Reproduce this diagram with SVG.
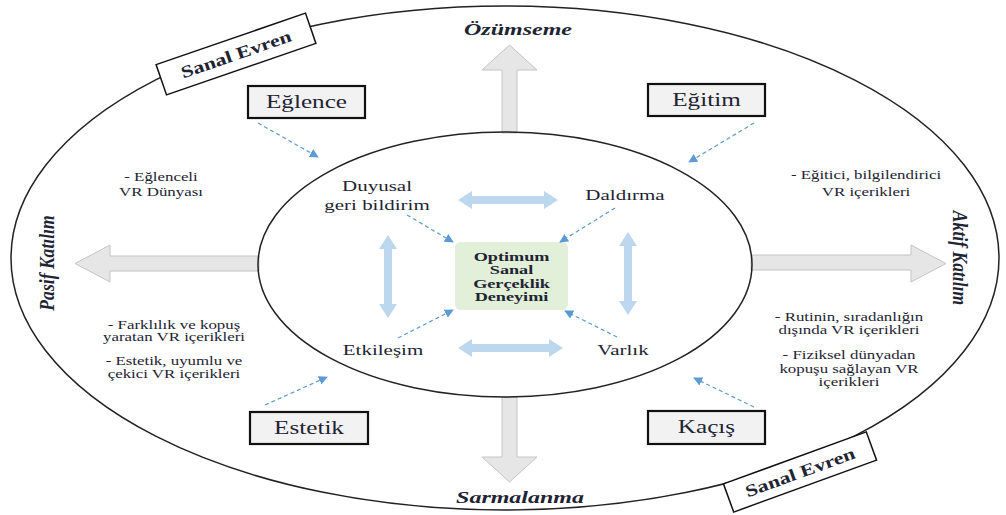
<svg xmlns="http://www.w3.org/2000/svg" width="1006" height="515" viewBox="0 0 1006 515" font-family="Liberation Serif, Times New Roman, serif">
<style>
text{fill:#1e2433;text-anchor:middle}
.axis{font-weight:bold;font-style:italic;font-size:16px}
.cat{font-size:18px}
.inner{font-size:15px}
.note{font-size:12.5px}
.ctr{font-size:13px;font-weight:bold}
.big{fill:#e6e6e6;stroke:#c4c4c4;stroke-width:1}
.dbl{fill:#bdd7ee}
.dash{stroke:#5b9bd5;stroke-width:1.2;stroke-dasharray:4 3;fill:none;marker-end:url(#ah)}
.catbox{fill:#f2f2f2;stroke:#111;stroke-width:2.2}
.evren{fill:#fff;stroke:#111;stroke-width:1.5}
</style>
<defs>
<marker id="ah" viewBox="0 0 10 10" refX="9" refY="5" markerWidth="9" markerHeight="9" markerUnits="userSpaceOnUse" orient="auto">
<path d="M0,0 L10,5 L0,10 z" fill="#5b9bd5"/>
</marker>
</defs>
<rect width="1006" height="515" fill="#fff"/>
<ellipse cx="505" cy="258" rx="494" ry="252" fill="none" stroke="#222" stroke-width="1.5"/>
<g id="big-arrows">
<polygon class="big" points="502,133 502,70 482,70 509.5,45 537,70 517,70 517,133"/>
<polygon class="big" points="502,397 502,457 482,457 509.5,482 537,457 517,457 517,397"/>
<polygon class="big" points="259,256 110,256 110,245 75,263.5 110,282 110,271 259,271"/>
<polygon class="big" points="751,255 911,255 911,245 946,263.5 911,282 911,270 751,270"/>
</g>
<ellipse cx="505" cy="264.5" rx="247" ry="132.5" fill="none" stroke="#222" stroke-width="1.5"/>
<g id="axis-labels">
<text class="axis" transform="translate(518,35) scale(1.5,1)">Özümseme</text>
<text class="axis" transform="translate(520,503) scale(1.5,1)">Sarmalanma</text>
<text class="axis" transform="translate(54,263) rotate(-90) scale(1.1,1.3)">Pasif Katılım</text>
<text class="axis" transform="translate(953,258) rotate(90) scale(1.1,1.3)">Aktif Katılım</text>
</g>
<g id="sanal-evren-1" transform="translate(236,54) rotate(-19)">
<rect class="evren" x="-79" y="-16" width="158" height="32"/>
<text transform="translate(0,6) scale(1.3,1)" font-size="17" font-weight="bold">Sanal Evren</text>
</g>
<g id="sanal-evren-2" transform="translate(800,472) rotate(-20)">
<rect class="evren" x="-76" y="-15" width="152" height="30"/>
<text transform="translate(0,6) scale(1.3,1)" font-size="17" font-weight="bold">Sanal Evren</text>
</g>
<g id="eglence"><rect class="catbox" x="248" y="86" width="117" height="32"/><text class="cat" transform="translate(306.5,108) scale(1.4,1)">Eğlence</text></g>
<g id="egitim"><rect class="catbox" x="648" y="84" width="117" height="32"/><text class="cat" transform="translate(706.5,106) scale(1.4,1)">Eğitim</text></g>
<g id="estetik"><rect class="catbox" x="250" y="412" width="118" height="32"/><text class="cat" transform="translate(309,434) scale(1.4,1)">Estetik</text></g>
<g id="kacis"><rect class="catbox" x="648" y="411" width="117" height="33"/><text class="cat" transform="translate(706.5,433) scale(1.4,1)">Kaçış</text></g>
<g id="notes">
<text class="note" transform="translate(161,181) scale(1.35,1)"><tspan x="0">- Eğlenceli</tspan><tspan x="0" dy="15">VR Dünyası</tspan></text>
<text class="note" transform="translate(866,179) scale(1.35,1)"><tspan x="0">- Eğitici, bilgilendirici</tspan><tspan x="0" dy="17">VR içerikleri</tspan></text>
<text class="note" transform="translate(174,329) scale(1.35,1)"><tspan x="0">- Farklılık ve kopuş</tspan><tspan x="0" dy="12.5">yaratan VR içerikleri</tspan><tspan x="0" dy="24">- Estetik, uyumlu ve</tspan><tspan x="0" dy="13">çekici VR içerikleri</tspan></text>
<text class="note" transform="translate(849,321) scale(1.35,1)"><tspan x="0">- Rutinin, sıradanlığın</tspan><tspan x="0" dy="13">dışında VR içerikleri</tspan><tspan x="0" dy="25">- Fiziksel dünyadan</tspan><tspan x="0" dy="14">kopuşu sağlayan VR</tspan><tspan x="0" dy="13">içerikleri</tspan></text>
</g>
<g id="center"><rect x="455" y="242" width="113" height="68" rx="6" fill="#e2efd9"/>
<text class="ctr" transform="translate(511.5,261) scale(1.4,1)"><tspan x="0">Optimum</tspan><tspan x="0" dy="13.5">Sanal</tspan><tspan x="0" dy="13.5">Gerçeklik</tspan><tspan x="0" dy="13.5">Deneyimi</tspan></text></g>
<g id="duyusal"><text class="inner" transform="translate(377,191) scale(1.4,1)"><tspan x="0">Duyusal</tspan><tspan x="0" dy="19">geri bildirim</tspan></text></g>
<g id="daldirma"><text class="inner" transform="translate(625,200) scale(1.4,1)">Daldırma</text></g>
<g id="etkilesim"><text class="inner" transform="translate(383,355) scale(1.4,1)">Etkileşim</text></g>
<g id="varlik"><text class="inner" transform="translate(623,355) scale(1.4,1)">Varlık</text></g>
<g id="connectors">
<path class="dash" d="M258,123 L318,157"/>
<path class="dash" d="M754,123 L689,162"/>
<path class="dash" d="M265,405 L327,377"/>
<path class="dash" d="M754,407 L694,378"/>
<path class="dash" d="M407,215 L453,242"/>
<path class="dash" d="M615,208 L560,242"/>
<path class="dash" d="M398,338 L453,310"/>
<path class="dash" d="M617,337 L565,311"/>
<path class="dbl" d="M458,200 L472,191 L472,196 L544,196 L544,191 L558,200 L544,209 L544,204 L472,204 L472,209 Z"/>
<path class="dbl" d="M458,348 L472,339 L472,344 L549,344 L549,339 L563,348 L549,357 L549,352 L472,352 L472,357 Z"/>
<path class="dbl" d="M388,235 L397,249 L392,249 L392,304 L397,304 L388,318 L379,304 L384,304 L384,249 L379,249 Z"/>
<path class="dbl" d="M628,232 L637,246 L632,246 L632,301 L637,301 L628,315 L619,301 L624,301 L624,246 L619,246 Z"/>
</g>
</svg>
